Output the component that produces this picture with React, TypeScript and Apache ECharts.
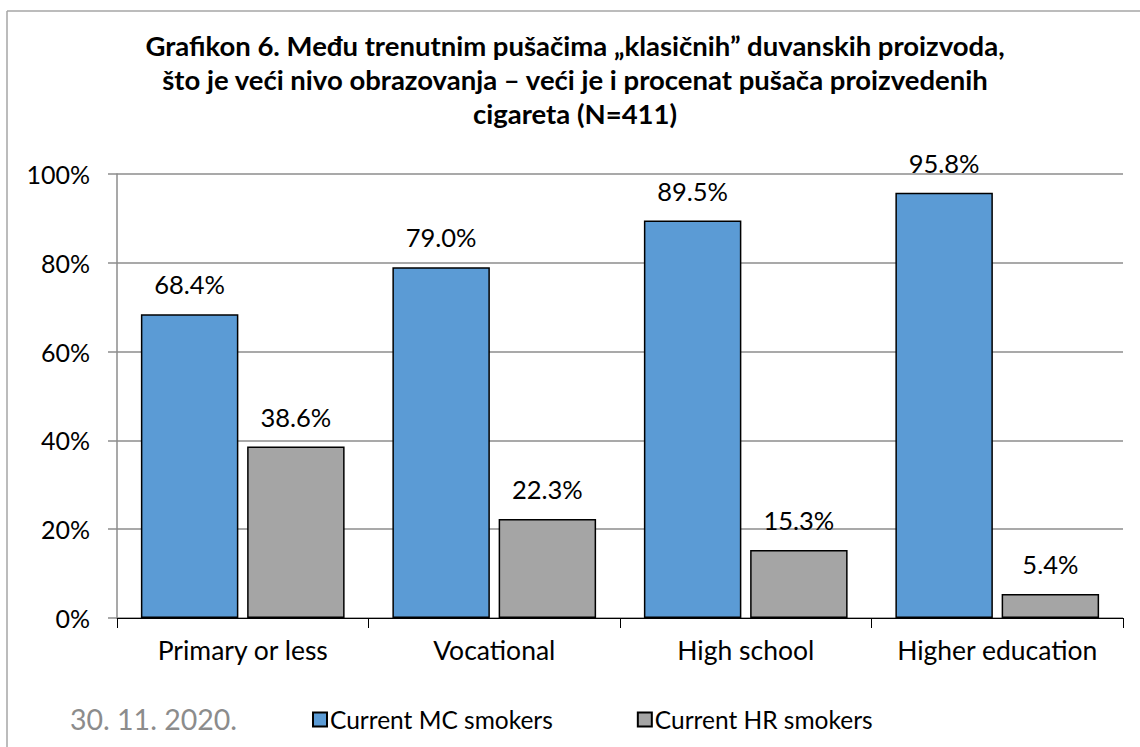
import React, { useEffect, useRef } from "react";
import * as echarts from "echarts";

const categories = ["Primary or less", "Vocational", "High school", "Higher education"];
const mcSmokers = [68.4, 79.0, 89.5, 95.8];
const hrSmokers = [38.6, 22.3, 15.3, 5.4];
const seriesNames = ["Current MC smokers", "Current HR smokers"];
const yTicks = [0, 20, 40, 60, 80, 100];
const titleText =
  "Grafikon 6. Među trenutnim pušačima „klasičnih” duvanskih proizvoda,\nšto je veći nivo obrazovanja – veći je i procenat pušača proizvedenih\ncigareta (N=411)";
const dateText = "30. 11. 2020.";

const FONT = "Lato, 'Open Sans', sans-serif";

export default function App() {
  const ref = useRef<HTMLDivElement>(null);
  useEffect(() => {
    if (!ref.current) return;
    const chart = echarts.init(ref.current, undefined, { renderer: "svg" });
    const labelCfg = {
      show: true,
      position: "top" as const,
      distance: 17,
      fontSize: 25.5,
      fontFamily: FONT,
      color: "#000",
      formatter: (p: any) => Number(p.value).toFixed(1) + "%",
    };
    chart.setOption({
      animation: false,
      backgroundColor: "#fff",
      title: {
        text: titleText,
        left: 570,
        textAlign: "center",
        top: 23,
        textStyle: {
          fontFamily: FONT,
          fontWeight: "bold",
          fontSize: 27.5,
          lineHeight: 34,
          color: "#000",
        },
      },
      grid: { left: 117, right: 17, top: 174, bottom: 129, containLabel: false },
      xAxis: {
        type: "category",
        data: categories,
        axisLine: { lineStyle: { color: "#000", width: 1 } },
        axisTick: { show: true, length: 10, alignWithLabel: false, lineStyle: { color: "#000" } },
        axisLabel: { interval: 0, fontFamily: FONT, fontSize: 26.5, color: "#000", margin: 18 },
      },
      yAxis: {
        type: "value",
        min: 0,
        max: 100,
        interval: 20,
        axisLine: { show: true, lineStyle: { color: "#8c8c8c", width: 1.5 } },
        axisTick: { show: true, length: 9, lineStyle: { color: "#8c8c8c", width: 1.5 } },
        splitLine: { lineStyle: { color: "#8c8c8c", width: 1.5 } },
        axisLabel: {
          fontFamily: FONT,
          fontSize: 25,
          color: "#000",
          margin: 27,
          formatter: (v: number) => (yTicks.includes(v) ? v + "%" : ""),
        },
      },
      legend: {
        left: 307,
        top: 702,
        itemWidth: 14,
        itemHeight: 14,
        itemGap: 84,
        icon: "rect",
        textStyle: { fontFamily: FONT, fontSize: 24.5, color: "#000", padding: [0, 0, 0, -2] },
        data: seriesNames,
      },
      series: [
        {
          name: seriesNames[0],
          type: "bar",
          data: mcSmokers,
          barGap: "9%",
          barCategoryGap: "19%",
          itemStyle: { color: "#5b9bd5", borderColor: "#000", borderWidth: 1.5 },
          label: labelCfg,
        },
        {
          name: seriesNames[1],
          type: "bar",
          data: hrSmokers,
          barGap: "9%",
          barCategoryGap: "19%",
          itemStyle: { color: "#a5a5a5", borderColor: "#000", borderWidth: 1.5 },
          label: labelCfg,
        },
      ],
      graphic: [
        {
          type: "line",
          shape: { x1: 7, y1: 11, x2: 1140, y2: 11 },
          style: { stroke: "#a6a6a6", lineWidth: 1.5 },
        },
        {
          type: "line",
          shape: { x1: 7, y1: 11, x2: 7, y2: 747 },
          style: { stroke: "#a6a6a6", lineWidth: 1.5 },
        },
        {
          type: "text",
          left: 70,
          top: 704,
          style: {
            text: dateText,
            fontFamily: FONT,
            fontSize: 28.5,
            fill: "#8c8c8c",
          },
        },
      ],
    });
    return () => chart.dispose();
  }, []);
  return (
    <div
      ref={ref}
      style={{ position: "fixed", left: 0, top: 0, width: 1140, height: 747 }}
    />
  );
}
